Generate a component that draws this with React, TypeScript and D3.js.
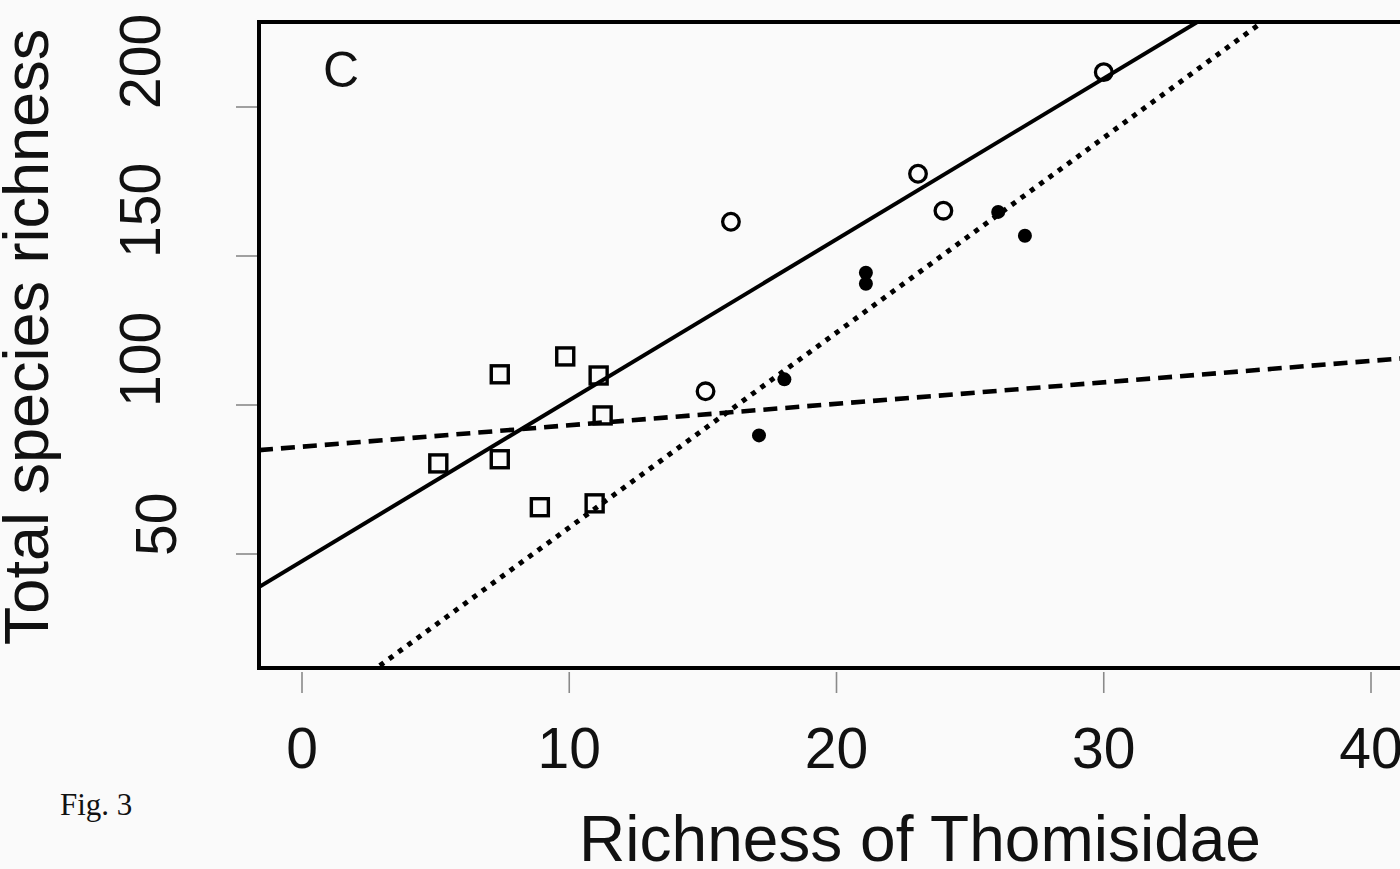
import React from "react";
import * as d3 from "d3";

// ---- data ----
const xTicks = [0, 10, 20, 30, 40];
const yTicks = [50, 100, 150, 200];

// open squares
const squareX = [5.1, 7.4, 7.4, 8.9, 9.85, 11.1, 11.25, 10.95];
const squareY = [80.4, 110.3, 81.8, 65.7, 116.3, 109.9, 96.5, 67.0];
// open circles
const openX = [15.1, 16.05, 23.05, 24.0, 30.0];
const openY = [104.6, 161.5, 177.6, 165.2, 211.7];
// filled circles
const filledX = [17.1, 18.05, 21.1, 21.1, 26.05, 27.05];
const filledY = [89.8, 108.6, 144.4, 140.7, 164.8, 156.8];

// fitted lines: solid (all), dotted (filled), dashed (squares)
const fitNames = ["solid", "dotted", "dashed"];
const fitIntercepts = [47.6, -6.5, 86.0];
const fitSlopes = [5.4, 6.54, 0.72];

const W = 1400;
const H = 869;
const plot = { left: 259, right: 1425, top: 22, bottom: 668 };
const FONT = "'Liberation Sans', Arial, Helvetica, sans-serif";

export default function App() {
  const x = d3.scaleLinear().domain([0, 40]).range([302, 1371]);
  const y = d3.scaleLinear().domain([50, 200]).range([554, 107]);

  const x0 = x.invert(plot.left);
  const x1 = x.invert(plot.right);
  const line = d3
    .line<[number, number]>()
    .x((d) => x(d[0]))
    .y((d) => y(d[1]));

  const styles: Record<string, any> = {
    solid: { strokeWidth: 4 },
    dotted: { strokeWidth: 5, strokeDasharray: "5 6.5" },
    dashed: { strokeWidth: 4.6, strokeDasharray: "14 8" },
  };

  const sq = 17;

  return (
    <svg
      width={W}
      height={H}
      style={{ position: "absolute", left: 0, top: 0, display: "block" }}
      fontFamily={FONT}
    >
      <defs>
        <clipPath id="plotclip">
          <rect
            x={plot.left}
            y={plot.top}
            width={plot.right - plot.left}
            height={plot.bottom - plot.top}
          />
        </clipPath>
      </defs>
      <rect x={0} y={0} width={W} height={H} fill="#fafafa" />

      {/* regression lines */}
      <g clipPath="url(#plotclip)" fill="none" stroke="#000">
        {fitNames.map((n, i) => (
          <path
            key={n}
            d={
              line([
                [x0, fitIntercepts[i] + fitSlopes[i] * x0],
                [x1, fitIntercepts[i] + fitSlopes[i] * x1],
              ]) as string
            }
            {...styles[n]}
          />
        ))}
      </g>

      {/* points */}
      <g>
        {squareX.map((v, i) => (
          <rect
            key={"s" + i}
            x={x(v) - sq / 2}
            y={y(squareY[i]) - sq / 2}
            width={sq}
            height={sq}
            fill="none"
            stroke="#000"
            strokeWidth={3.4}
          />
        ))}
        {openX.map((v, i) => (
          <circle
            key={"o" + i}
            cx={x(v)}
            cy={y(openY[i])}
            r={8.3}
            fill="none"
            stroke="#000"
            strokeWidth={3.3}
          />
        ))}
        {filledX.map((v, i) => (
          <circle
            key={"f" + i}
            cx={x(v)}
            cy={y(filledY[i])}
            r={7}
            fill="#000"
          />
        ))}
      </g>

      {/* frame */}
      <rect
        x={plot.left}
        y={plot.top}
        width={plot.right - plot.left}
        height={plot.bottom - plot.top}
        fill="none"
        stroke="#000"
        strokeWidth={4}
      />

      {/* x axis */}
      <g>
        {xTicks.map((t) => (
          <g key={"xt" + t}>
            <line
              x1={x(t)}
              x2={x(t)}
              y1={plot.bottom + 4}
              y2={plot.bottom + 25}
              stroke="#8a8a8a"
              strokeWidth={1.6}
            />
            <text
              x={x(t)}
              y={768}
              textAnchor="middle"
              fontSize={57}
              fill="#111"
            >
              {t}
            </text>
          </g>
        ))}
      </g>

      {/* y axis */}
      <g>
        {yTicks.map((t) => {
          const bx = t === 50 ? 176 : 160;
          return (
            <g key={"yt" + t}>
              <line
                x1={plot.left - 23}
                x2={plot.left - 2}
                y1={y(t)}
                y2={y(t)}
                stroke="#8a8a8a"
                strokeWidth={1.6}
              />
              <text
                transform={`translate(${bx},${y(t) + 2}) rotate(-90)`}
                textAnchor="start"
                fontSize={57}
                fill="#111"
              >
                {t}
              </text>
            </g>
          );
        })}
      </g>

      {/* titles */}
      <text
        x={920}
        y={861}
        textAnchor="middle"
        fontSize={64}
        fill="#111"
      >
        Richness of Thomisidae
      </text>
      <text
        transform="translate(48,337) rotate(-90)"
        textAnchor="middle"
        fontSize={63}
        fill="#111"
      >
        Total species richness
      </text>
      <text x={323} y={87} fontSize={50} fill="#111">
        C
      </text>
      <text
        x={60}
        y={815}
        fontSize={31}
        fontFamily="'Liberation Serif', 'Times New Roman', serif"
        fill="#111"
      >
        Fig. 3
      </text>
    </svg>
  );
}
